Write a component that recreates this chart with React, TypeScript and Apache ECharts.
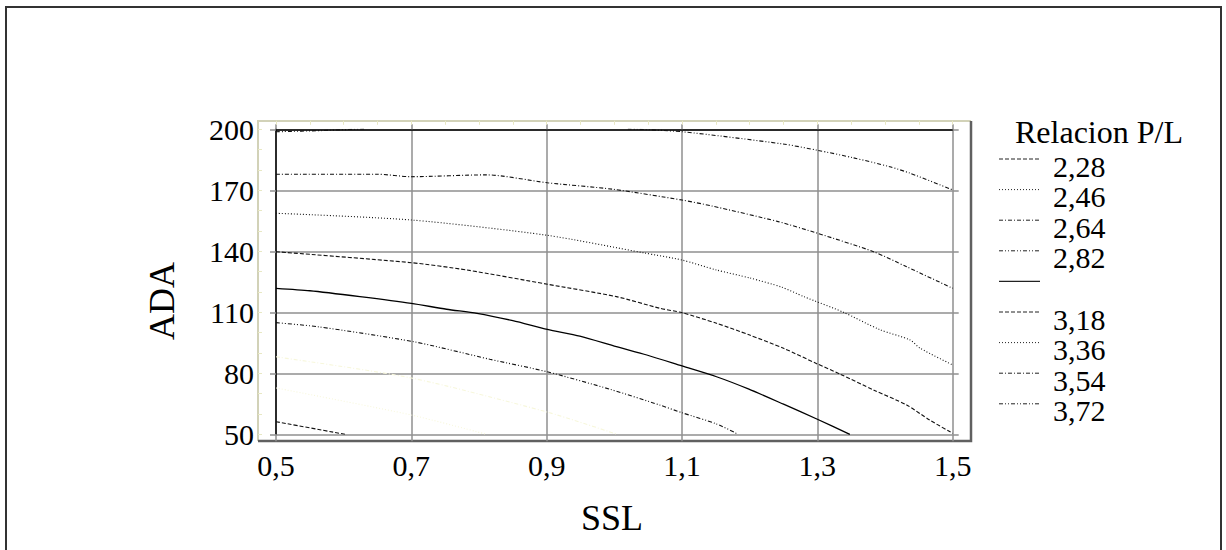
import React, { useEffect, useRef } from "react";
import * as echarts from "echarts";

// ---- data ----
const xTicks = [0.5, 0.7, 0.9, 1.1, 1.3, 1.5];
const yTicks = [50, 80, 110, 140, 170, 200];
const legendTitle = "Relacion P/L";
const levelLabels = ["2,28", "2,46", "2,64", "2,82", "", "3,18", "3,36", "3,54", "3,72"];
const xName = "SSL";
const yName = "ADA";

const c228 = [[0.5, 56.2], [0.602, 50]];
const c246 = [[0.5, 72.8], [0.7, 59.5], [0.811, 50]];
const c264 = [[0.5, 88.1], [0.7, 77.7], [0.9, 61.0], [1.004, 50]];
const c282 = [[0.5, 104.9], [0.562, 102.9], [0.704, 95.5], [0.816, 86.9], [0.9, 80.8], [0.994, 72.1], [1.067, 64.4], [1.1, 60.6], [1.151, 55.1], [1.183, 50]];
const c300 = [[0.5, 121.8], [0.55, 120.6], [0.624, 117.7], [0.7, 114.4], [0.752, 111.5], [0.797, 109.5], [0.85, 105.9], [0.901, 101.6], [0.949, 98.3], [1.003, 93.1], [1.048, 89.0], [1.1, 83.6], [1.151, 78.3], [1.198, 72.3], [1.25, 64.8], [1.3, 57.4], [1.348, 50]];
const c318 = [[0.5, 139.8], [0.7, 134.4], [0.782, 130.8], [0.901, 123.8], [1.003, 117.7], [1.067, 112.0], [1.1, 109.8], [1.151, 104.6], [1.2, 98.8], [1.25, 92.3], [1.3, 84.6], [1.333, 79.7], [1.383, 71.8], [1.432, 64.4], [1.466, 57.0], [1.5, 50.5]];
const c336 = [[0.5, 158.7], [0.7, 155.4], [0.9, 147.9], [1.044, 139.2], [1.1, 135.7], [1.151, 130.8], [1.2, 126.9], [1.247, 122.4], [1.28, 117.7], [1.338, 110.1], [1.392, 101.5], [1.437, 96.4], [1.452, 92.3], [1.5, 84.1]];
const c354 = [[0.5, 177.9], [0.649, 177.9], [0.7, 176.7], [0.811, 177.6], [0.901, 173.7], [0.998, 170.5], [1.1, 165.2], [1.144, 162.3], [1.242, 154.6], [1.3, 148.9], [1.383, 139.8], [1.432, 132.4], [1.5, 121.8]];
const c372a = [[0.5, 198.8], [0.57, 199.4], [0.63, 200.2]];
const c372b = [[1.02, 200.2], [1.1, 198.8], [1.249, 192.8], [1.3, 189.7], [1.353, 186.0], [1.407, 181.6], [1.437, 178.4], [1.5, 170.2]];

// ---- styles ----
const DASH = [4, 2];
const DOT = [1, 2];
const DASHDOT = [4, 2, 1, 2];
const DASHDOTDOT = [4, 2, 1, 2, 1, 2];
const levelDash: any[] = [DASH, DOT, DASHDOT, DASHDOTDOT, "solid", DASH, DOT, DASHDOT, DASHDOTDOT];
const levelColor = ["#111", "#f7f7dc", "#f7f7dc", "#111", "#000", "#111", "#111", "#111", "#111"];
const FONT = "Liberation Serif, 'Times New Roman', serif";

export default function App() {
  const ref = useRef<HTMLDivElement>(null);
  useEffect(() => {
    document.body.style.margin = "0";
    const chart = echarts.init(ref.current!, null, { renderer: "svg" });
    const gridL = 276, gridT = 129.3, gridW = 676.7, gridH = 305;
    const contourData = [c228, c246, c264, c282, c300, c318, c336, c354, c372a, c372b];
    const contourLevel = [0, 1, 2, 3, 4, 5, 6, 7, 8, 8];
    const series: any[] = contourData.map((d, i) => {
      const lv = contourLevel[i];
      return {
        type: "line",
        data: d,
        symbol: "none",
        smooth: 0.25,
        xAxisIndex: 0,
        yAxisIndex: 0,
        z: 5,
        lineStyle: { color: levelColor[lv], width: lv === 4 ? 1.3 : 1.1, type: levelDash[lv] },
      };
    });
    const legendGraphics: any[] = [];
    levelLabels.forEach((lab, i) => {
      const y = 159 + i * 30.6;
      legendGraphics.push({
        type: "line",
        shape: { x1: 999, y1: y, x2: 1040, y2: y },
        style: { stroke: "#222", lineWidth: i === 4 ? 1.3 : 1, lineDash: i === 4 ? null : levelDash[i] },
      });
      if (lab) {
        legendGraphics.push({
          type: "text",
          x: 1053,
          y: y + 7,
          style: { text: lab, font: `30px ${FONT}`, fill: "#000", align: "left", verticalAlign: "middle" },
        });
      }
    });
    const fmtX = (v: number) => v.toFixed(1).replace(".", ",");
    chart.setOption({
      animation: false,
      backgroundColor: "#fff",
      grid: { left: gridL, top: gridT, width: gridW, height: gridH, containLabel: false },
      xAxis: [
        {
          type: "value", min: 0.5, max: 1.5, interval: 0.2, position: "bottom",
          axisLine: { show: false },
          axisTick: { show: true, length: 7, lineStyle: { color: "#8f8f8f", width: 1.5 } },
          splitLine: { show: true, lineStyle: { color: "#8f8f8f", width: 1.5 } },
          axisLabel: { formatter: fmtX, fontFamily: FONT, fontSize: 30, color: "#000", margin: 16 },
        },
        {
          type: "value", min: 0.5, max: 1.5, interval: 0.2, position: "top",
          axisLine: { show: true, lineStyle: { color: "#000", width: 1.5 } },
          axisTick: { show: true, length: 5, lineStyle: { color: "#8f8f8f", width: 1.5 } },
          splitLine: { show: false }, axisLabel: { show: false },
        },
        {
          type: "value", min: 0.5, max: 1.5, interval: 0.05, position: "top", offset: 8.5,
          axisLine: { show: false },
          axisTick: { show: true, inside: true, length: 4, lineStyle: { color: "#e8e8c4", width: 1 } },
          splitLine: { show: false }, axisLabel: { show: false },
        },
      ],
      yAxis: [
        {
          type: "value", min: 50, max: 200, interval: 30, position: "left",
          axisLine: { show: true, lineStyle: { color: "#000", width: 1.5 } },
          axisTick: { show: true, length: 6, lineStyle: { color: "#8f8f8f", width: 1.5 } },
          splitLine: { show: true, lineStyle: { color: "#8f8f8f", width: 1.5 } },
          axisLabel: { fontFamily: FONT, fontSize: 30, color: "#000", margin: 22 },
        },
        {
          type: "value", min: 50, max: 200, interval: 30, position: "right",
          axisLine: { show: false },
          axisTick: { show: true, length: 6, lineStyle: { color: "#8f8f8f", width: 1.5 } },
          splitLine: { show: false }, axisLabel: { show: false },
        },
        {
          type: "value", min: 50, max: 200, interval: 10, position: "left", offset: 18,
          axisLine: { show: false },
          axisTick: { show: true, inside: true, length: 4, lineStyle: { color: "#e8e8c4", width: 1 } },
          splitLine: { show: false }, axisLabel: { show: false },
        },
      ],
      series,
      graphic: [
        {
          type: "rect", shape: { x: 6, y: 7, width: 1215, height: 560 },
          style: { fill: "none", stroke: "#333", lineWidth: 2 }, silent: true,
        },
        {
          type: "polyline", shape: { points: [[258, 441], [258, 121], [971, 121]] },
          style: { fill: "none", stroke: "#d2d2b8", lineWidth: 2 },
        },
        {
          type: "polyline", shape: { points: [[258, 441], [971, 441], [971, 121]] },
          style: { fill: "none", stroke: "#606060", lineWidth: 2.5 },
        },
        {
          type: "text", x: 612, y: 518,
          style: { text: xName, font: `36px ${FONT}`, fill: "#000", align: "center", verticalAlign: "middle" },
        },
        {
          type: "text", x: 161.5, y: 301, rotation: Math.PI / 2,
          style: { text: yName, font: `36px ${FONT}`, fill: "#000", align: "center", verticalAlign: "middle" },
        },
        {
          type: "text", x: 1015, y: 132,
          style: { text: legendTitle, font: `32px ${FONT}`, fill: "#000", align: "left", verticalAlign: "middle" },
        },
        ...legendGraphics,
      ],
    });
    return () => chart.dispose();
  }, []);
  return <div ref={ref} style={{ width: 1226, height: 550 }} />;
}
